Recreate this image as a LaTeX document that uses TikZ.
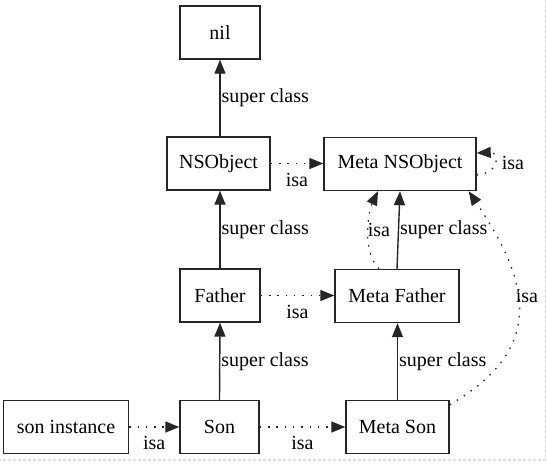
\documentclass[tikz,border=0pt]{standalone}
\usepackage{fontspec}
\setmainfont{Liberation Serif}
\usetikzlibrary{arrows.meta}
\begin{document}
\begin{tikzpicture}[x=1pt,y=-1pt,
  box/.style={draw=black!85, line width=1.4pt, minimum width=#1, minimum height=53pt,
    inner sep=0pt, font=\fontsize{20}{24}\selectfont},
  sup/.style={draw=black!85, line width=1.4pt, -{Triangle[length=14pt,width=11pt]}},
  isa/.style={draw=black!85, line width=1.3pt, dash pattern=on 1.5pt off 6.8pt,
    -{Triangle[length=14pt,width=11pt]}},
  lab/.style={font=\fontsize{20}{24}\selectfont, inner sep=0pt},
  frame/.style={draw=gray!25, line width=1.5pt, dash pattern=on 3pt off 2pt}]
\useasboundingbox (0,0) rectangle (547,464);
\draw[frame] (545.5,0) -- (545.5,460) -- (0,460);
% nodes
\node[box=80pt]  (nil)     at (220,32.5)  {nil};
\node[box=103pt] (nso)     at (218.5,163.5) {NSObject};
\node[box=152pt] (mnso)    at (400,164)   {Meta NSObject};
\node[box=80pt]  (father)  at (220,295.5) {Father};
\node[box=124pt] (mfather) at (397,296)   {Meta Father};
\node[box=125pt] (inst)    at (66,427)    {son instance};
\node[box=79pt]  (son)     at (219.5,427) {Son};
\node[box=103pt] (mson)    at (397.5,427) {Meta Son};
% super class edges
\draw[sup] (nso.north -| nil.south) -- node[lab, right, xshift=1pt] {super class} (nil.south);
\draw[sup] (father.north) -- node[lab, right, xshift=1pt] {super class} (father.north |- nso.south);
\draw[sup] (son.north) -- node[lab, right, xshift=1pt] {super class} (father.south);
\draw[sup] (mson.north) -- node[lab, right, xshift=1pt] {super class} (mson.north |- mfather.south);
\draw[sup] (mfather.north) -- node[lab, right, xshift=1pt] {super class} (mnso.south);
% isa edges
\draw[isa] (inst.east) -- node[lab, yshift=-16pt] {isa} (son.west);
\draw[isa] (son.east) -- node[lab, yshift=-16pt] {isa} (mson.west);
\draw[isa] (father.east) -- node[lab, yshift=-16.5pt] {isa} (father.east -| mfather.west);
\draw[isa] (nso.east) -- node[lab, yshift=-16.5pt] {isa} (nso.east -| mnso.west);
\draw[isa] ([yshift=-11pt]mnso.east) .. controls (500,173) and (500,152) .. ([yshift=11pt]mnso.east);
\node[lab] (lself) at (513,163) {isa};
\draw[isa] ([xshift=-18pt]mfather.north) .. controls (362,252) and (368,212) .. ([xshift=-22pt]mnso.south);
\node[lab] (lmf) at (379,230) {isa};
\draw[isa] ([yshift=-5pt]mson.north east) .. controls (553,345) and (524,274) .. ([xshift=-8pt]mnso.south east);
\node[lab] (lms) at (527,296) {isa};
\end{tikzpicture}
\end{document}
